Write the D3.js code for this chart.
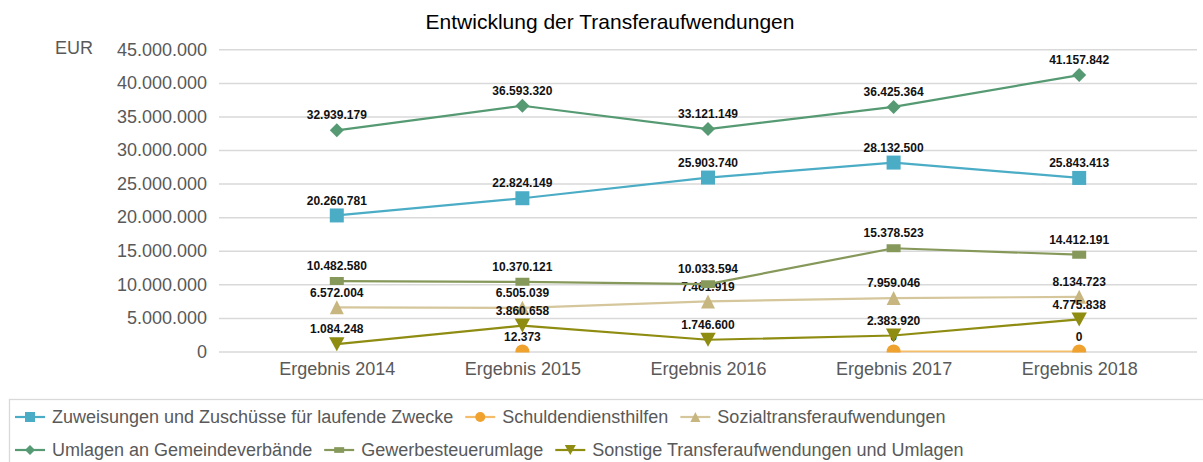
<!DOCTYPE html>
<html><head><meta charset="utf-8">
<script src="https://cdn.jsdelivr.net/npm/d3@7"></script>
<style>body{margin:0;background:#fff} svg{display:block;font-family:"Liberation Sans",Arial,sans-serif}</style>
</head><body><svg id="c" width="1203" height="462"></svg>
<script>
const categories = ["Ergebnis 2014","Ergebnis 2015","Ergebnis 2016","Ergebnis 2017","Ergebnis 2018"];
const zuweisungen = [20260781,22824149,25903740,28132500,25843413];
const schuldendiensthilfen = [null,12373,null,0,0];
const sozialtransfer = [6572004,6505039,7461919,7959046,8134723];
const umlagen = [32939179,36593320,33121149,36425364,41157842];
const gewerbesteuerumlage = [10482580,10370121,10033594,15378523,14412191];
const sonstige = [1084248,3860658,1746600,2383920,4775838];
const yTicks = [0,5000000,10000000,15000000,20000000,25000000,30000000,35000000,40000000,45000000];
const seriesNames = ["Zuweisungen und Zuschüsse für laufende Zwecke","Schuldendiensthilfen","Sozialtransferaufwendungen","Umlagen an Gemeindeverbände","Gewerbesteuerumlage","Sonstige Transferaufwendungen und Umlagen"];
const titleText = "Entwicklung der Transferaufwendungen";
const unitText = "EUR";

const series = [
  {name: seriesNames[0], values: zuweisungen, color:"#4BACC6", line:"#4BACC6", marker:"square"},
  {name: seriesNames[1], values: schuldendiensthilfen, color:"#F0A22E", line:"#F5BD6A", marker:"circle"},
  {name: seriesNames[2], values: sozialtransfer, color:"#C8B680", line:"#D5C69C", marker:"triUp"},
  {name: seriesNames[3], values: umlagen, color:"#559A72", line:"#559A72", marker:"diamond"},
  {name: seriesNames[4], values: gewerbesteuerumlage, color:"#86995B", line:"#86995B", marker:"dash"},
  {name: seriesNames[5], values: sonstige, color:"#8F8C12", line:"#8F8C12", marker:"triDown"}
];

const loc = d3.formatLocale({decimal:",", thousands:".", grouping:[3], currency:["","€"]});
const fmt = loc.format(",d");

const svg = d3.select("#c");
const x = d3.scalePoint().domain(categories).range([244,1172]).padding(0.5);
const y = d3.scaleLinear().domain([0,45000000]).range([351.5,49.3]);

// title
svg.append("text").attr("x",610).attr("y",29).attr("text-anchor","middle")
  .attr("font-size",21).attr("fill","#000").text(titleText);
svg.append("text").attr("x",55).attr("y",54).attr("font-size",18).attr("fill","#595959").text(unitText);

// grid + y axis
const yAxis = d3.axisLeft(y).tickValues(yTicks).tickFormat(fmt).tickSize(0).tickPadding(0);
const gy = svg.append("g").attr("transform","translate(207,0)").call(yAxis);
gy.select(".domain").remove();
gy.selectAll("text").attr("font-size",18).attr("fill","#595959").attr("font-family","Liberation Sans, Arial, sans-serif");
const grid = d3.axisLeft(y).tickValues(yTicks).tickFormat("").tickSize(-(1197-219));
const gg = svg.append("g").attr("transform","translate(219,0)").call(grid);
gg.select(".domain").remove();
gg.selectAll("line").attr("stroke","#D9D9D9").attr("stroke-width",1.5);

// x axis labels
const xAxis = d3.axisBottom(x).tickSize(0).tickPadding(0);
const gx = svg.append("g").attr("transform","translate(0,362)").call(xAxis);
gx.select(".domain").remove();
gx.selectAll("text").attr("font-size",18).attr("fill","#595959").attr("dy","0.7em").attr("font-family","Liberation Sans, Arial, sans-serif");

function markerPath(type, s){
  const h = s/2;
  switch(type){
    case "square": return `M${-h},${-h}H${h}V${h}H${-h}Z`;
    case "circle": return d3.symbol(d3.symbolCircle, Math.PI*h*h)();
    case "triUp": return `M0,${-h}L${h},${h}L${-h},${h}Z`;
    case "triDown": return `M${-h*1.1},${-h}L${h*1.1},${-h}L0,${h}Z`;
    case "diamond": return `M0,${-h}L${h},0L0,${h}L${-h},0Z`;
    case "dash": return `M${-h},${-h*0.57}H${h}V${h*0.57}H${-h}Z`;
  }
}

svg.append("clipPath").attr("id","plotclip").append("rect").attr("x",0).attr("y",0).attr("width",1203).attr("height",352.5);

series.forEach((s,si)=>{
  const sg = svg.append("g");
  const g = sg.append("g").attr("clip-path","url(#plotclip)");
  const pts = categories.map((c,i)=>({c, v:s.values[i]}));
  const line = d3.line().defined(d=>d.v!=null).x(d=>x(d.c)).y(d=>y(d.v));
  g.append("path").datum(pts).attr("d",line).attr("fill","none").attr("stroke",s.line).attr("stroke-width",2.2).attr("stroke-linejoin","round");
  g.selectAll("path.m").data(pts.filter(d=>d.v!=null)).join("path").attr("class","m")
    .attr("d",markerPath(s.marker,14)).attr("transform",d=>`translate(${x(d.c)},${y(d.v)})`)
    .attr("fill",s.color);
  sg.append("g").selectAll("text").data(pts.filter(d=>d.v!=null)).join("text")
    .attr("x",d=>x(d.c)).attr("y",d=>y(d.v)-15).attr("dy","0.35em").attr("text-anchor","middle")
    .attr("font-size",12).attr("font-weight","bold").attr("fill","#111").text(d=>fmt(d.v));
});

// legend
svg.append("rect").attr("x",9.5).attr("y",399.5).attr("width",1200).attr("height",80).attr("fill","none").attr("stroke","#D9D9D9").attr("stroke-width",1.3);
const rows = [[0,1,2],[3,4,5]];
const rowY = [417,450];
rows.forEach((r,ri)=>{
  let xx = 15;
  r.forEach(si=>{
    const s = series[si];
    const g = svg.append("g").attr("transform",`translate(${xx},${rowY[ri]})`);
    g.append("line").attr("x1",0).attr("x2",30).attr("stroke",s.line).attr("stroke-width",2.2);
    g.append("path").attr("d",markerPath(s.marker,10)).attr("transform","translate(15,0)").attr("fill",s.color);
    const t = g.append("text").attr("x",37).attr("dy","0.35em").attr("font-size",18).attr("fill","#595959").text(s.name);
    xx += 37 + t.node().getComputedTextLength() + 12;
  });
});
</script></body></html>
